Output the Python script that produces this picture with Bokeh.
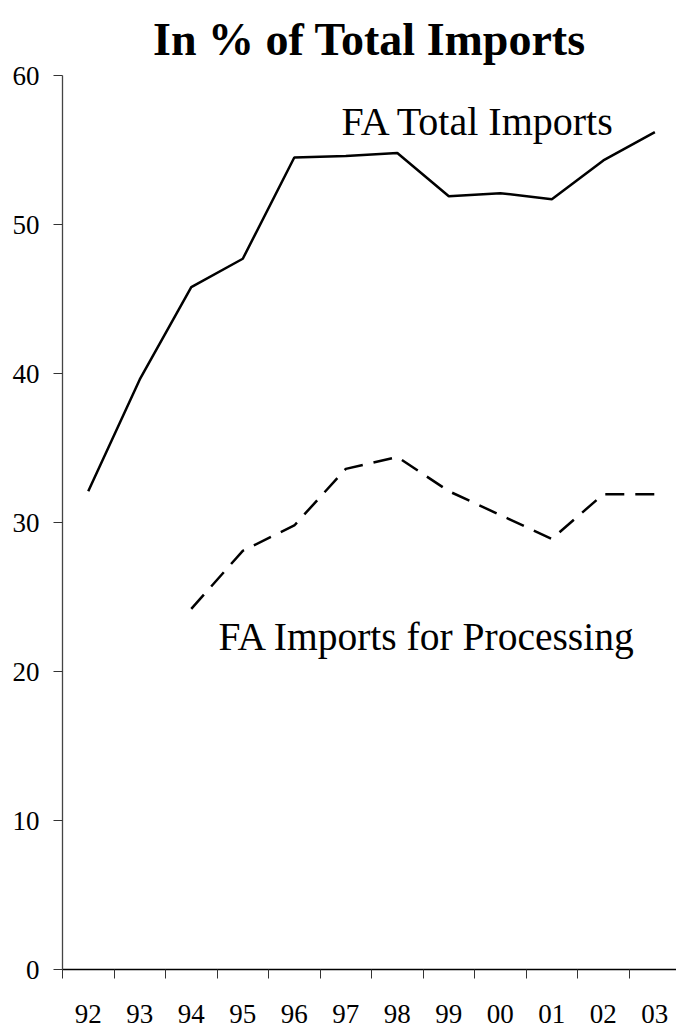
from bokeh.plotting import figure
from bokeh.models import Range1d, FixedTicker, Label
from bokeh.embed import file_html
from bokeh.resources import INLINE

years = ["92", "93", "94", "95", "96", "97", "98", "99", "00", "01", "02", "03"]
fa_total = [32.1, 39.6, 45.8, 47.7, 54.5, 54.6, 54.8, 51.9, 52.1, 51.7, 54.3, 56.2]
proc_years = ["94", "95", "96", "97", "98", "99", "00", "01", "02", "03"]
fa_processing = [24.2, 28.1, 29.8, 33.6, 34.4, 32.1, 30.5, 28.9, 31.9, 31.9]
y_ticks = [0, 10, 20, 30, 40, 50, 60]

FONT = "Liberation Serif"

idx = {y: i + 0.5 for i, y in enumerate(years)}
x_total = [idx[y] for y in years]
x_proc = [idx[y] for y in proc_years]

p = figure(width=676, height=1027, output_backend="svg", toolbar_location=None,
           x_range=Range1d(0, 11.92), y_range=Range1d(0, 60),
           min_border_left=62, min_border_right=0, min_border_top=74, min_border_bottom=58,
           title="In % of Total Imports")

p.title.text_font = FONT
p.title.text_font_size = "46px"
p.title.text_font_style = "bold"
p.title.align = "center"
p.title.text_color = "black"
p.title.standoff = 22

p.outline_line_color = None
p.xgrid.visible = False
p.ygrid.visible = False

p.line(x_total, fa_total, line_color="black", line_width=2.5)
p.line(x_proc, fa_processing, line_color="black", line_width=2.5, line_dash="19 11")

xa = p.xaxis[0]
xa.ticker = FixedTicker(ticks=x_total, minor_ticks=list(range(0, 13)))
xa.major_label_overrides = {idx[y]: y for y in years}
xa.major_tick_out = 0
xa.major_tick_in = 0
xa.minor_tick_out = 9
xa.minor_tick_in = 0
xa.minor_tick_line_color = "#333333"
xa.axis_line_color = "black"
xa.axis_line_width = 1.3
xa.major_label_standoff = 26
xa.major_label_text_font = FONT
xa.major_label_text_font_size = "27px"
xa.major_label_text_color = "black"

ya = p.yaxis[0]
ya.ticker = FixedTicker(ticks=y_ticks, minor_ticks=[])
ya.major_tick_out = 9
ya.major_tick_in = 0
ya.major_tick_line_color = "#333333"
ya.axis_line_color = "#444444"
ya.axis_line_width = 1.3
ya.major_label_standoff = 14
ya.major_label_text_font = FONT
ya.major_label_text_font_size = "27px"
ya.major_label_text_color = "black"

p.add_layout(Label(x=10.74, y=56.9, text="FA Total Imports", text_font=FONT,
                   text_font_size="40px", text_align="right", text_baseline="alphabetic",
                   text_color="black"))
p.add_layout(Label(x=3.03, y=22.3, text="FA Imports for Processing", text_font=FONT,
                   text_font_size="39.5px", text_align="left", text_baseline="alphabetic",
                   text_color="black"))

open("out.html", "w").write(file_html(p, INLINE))
